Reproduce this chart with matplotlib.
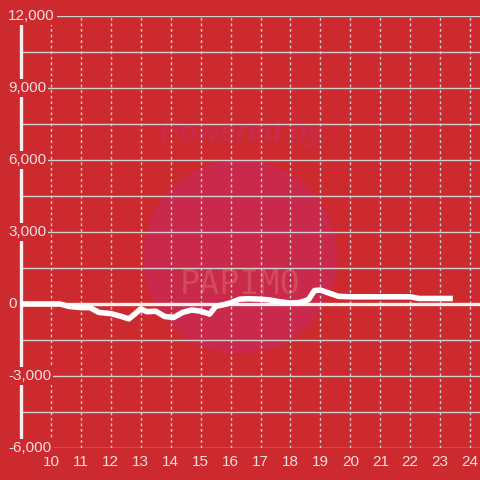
import matplotlib
matplotlib.use('Agg')
import matplotlib.pyplot as plt
from matplotlib.patches import Circle

# hour of day vs value
hours = [9.0, 9.5, 10.0, 10.3, 10.6, 11.0, 11.3, 11.6, 12.0, 12.3, 12.6, 12.8,
         13.0, 13.2, 13.5, 13.8, 14.1, 14.4, 14.7, 15.0, 15.3, 15.5, 15.8, 16.0,
         16.3, 16.6, 17.0, 17.3, 17.6, 18.0, 18.3, 18.6, 18.8, 19.0, 19.3, 19.6,
         20.0, 21.0, 22.0, 22.3, 23.33]
values = [0, 0, 0, 0, -100, -150, -150, -350, -400, -500, -620, -420,
          -200, -320, -300, -520, -560, -350, -250, -300, -420, -100, -20, 50,
          200, 220, 200, 170, 100, 40, 60, 180, 560, 580, 450, 320,
          300, 300, 300, 230, 230]
yticks = [-6000, -3000, 0, 3000, 6000, 9000, 12000]
xticks = list(range(10, 25))

BG = '#cc2a2e'
TXT = '#f3dede'
GRID = '#cfcfcf'

plt.rcParams['font.family'] = ['Liberation Sans', 'DejaVu Sans']

fig = plt.figure(figsize=(4.8, 4.8), dpi=100, facecolor=BG)
ax = fig.add_axes([21 / 480, 32 / 480, 459 / 480, 432 / 480])
ax.set_facecolor(BG)

# watermark (behind the grid)
ax.add_patch(Circle((240 / 480, 1 - 257 / 480), 97 / 480, transform=fig.transFigure,
                    facecolor='#c9294a', edgecolor='none', zorder=0.5, clip_on=False))
ax.text(242 / 480, 1 - 133 / 480, 'Powered by', transform=fig.transFigure, ha='center',
        va='center', fontsize=21, fontweight='bold', style='italic', color='#c82c4a', zorder=0.6)
ax.text(240 / 480, 1 - 285 / 480, 'PAPIMO', transform=fig.transFigure, ha='center',
        va='center', fontsize=24, color='#d34a5a', zorder=0.6, family='DejaVu Sans Mono')

ax.set_xlim(9.0, 24.33)
ax.set_ylim(-6000, 12000)

for y in range(-6000, 12001, 1500):
    ax.axhline(y, color=GRID, lw=1.0, zorder=1)
for x in xticks:
    ax.axvline(x, color=GRID, lw=1.0, ls=(0, (2, 2)), zorder=1)

ax.axhline(0, color='#f4f0f0', lw=2.4, zorder=3)
ax.plot(hours, values, color='white', lw=4.0, solid_joinstyle='round', zorder=4)

for s in ['top', 'right', 'bottom']:
    ax.spines[s].set_visible(False)
ax.spines['left'].set_color('#f4f0f0')
ax.spines['left'].set_linewidth(2.4)
ax.spines['left'].set_bounds(-6000, 11670)
ax.spines['left'].set_zorder(2)

ax.set_yticks([])
ax.set_xticks(xticks)
ax.set_xticklabels([str(x) for x in xticks], color=TXT, fontsize=11)
ax.tick_params(axis='x', length=0, pad=5)

for y in yticks:
    ax.text(-13 / 459, y, f'{y:,}', transform=ax.get_yaxis_transform(), ha='left', va='center',
            color=TXT, fontsize=11, zorder=5,
            bbox=dict(facecolor=BG, edgecolor='none', pad=1.5))

fig.savefig('out.png', dpi=100, facecolor=BG)
